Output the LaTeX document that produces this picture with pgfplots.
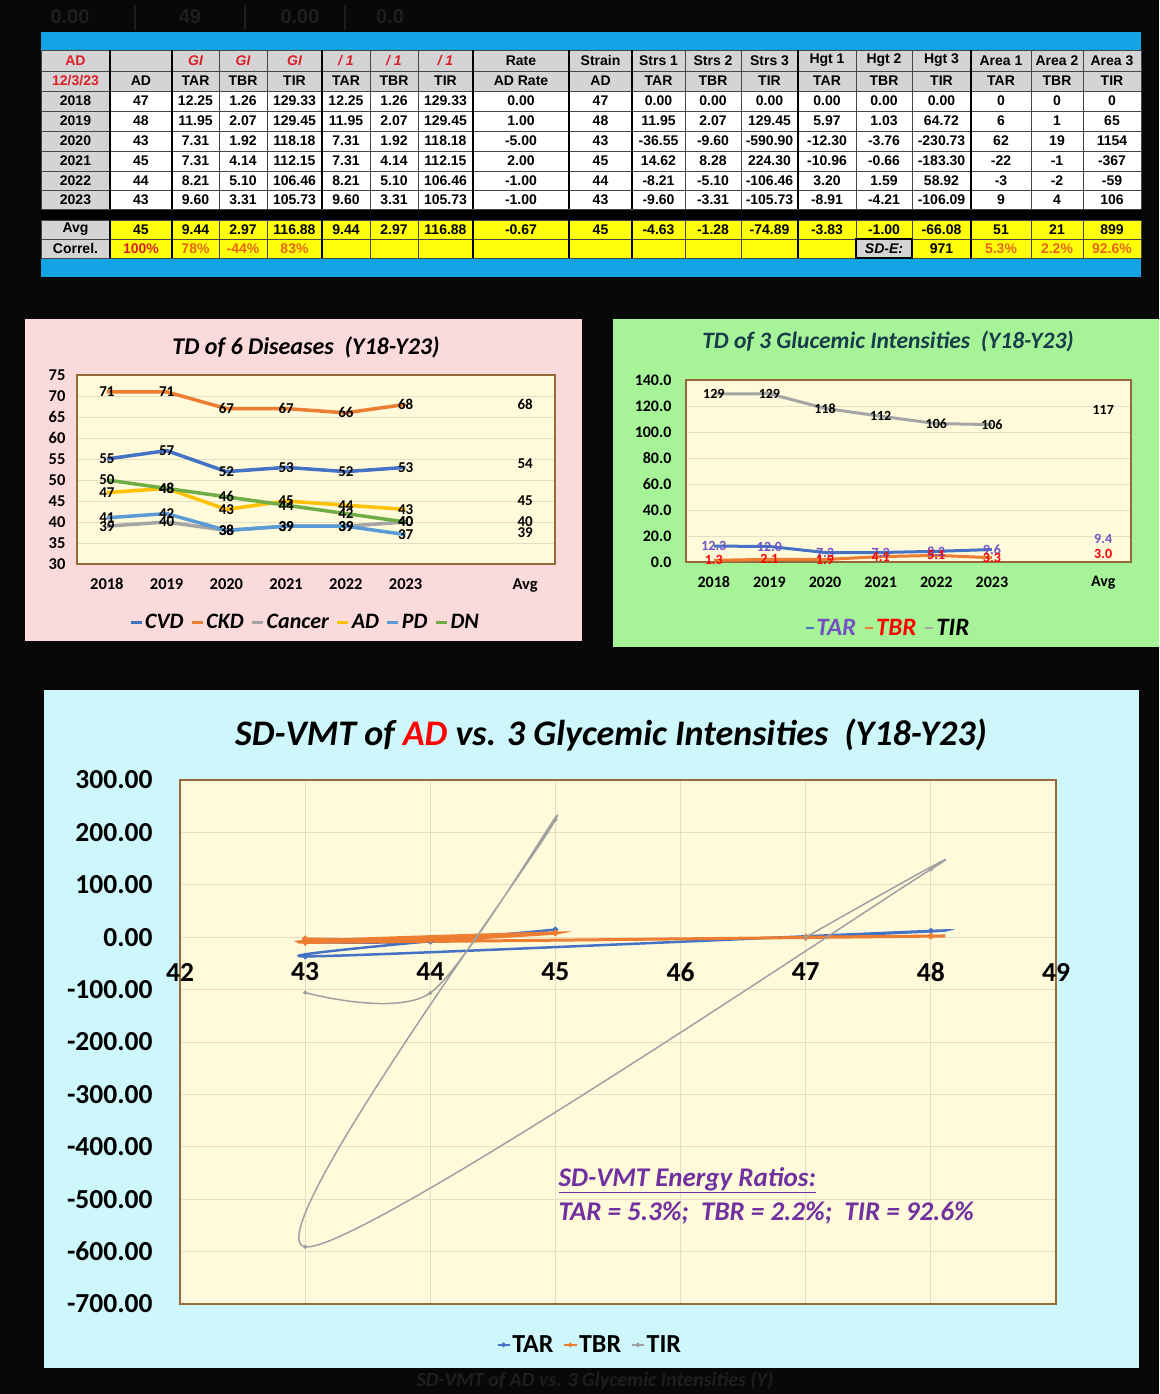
\documentclass[border=0pt]{standalone}
\usepackage{pgfplots}
\pgfplotsset{compat=1.18}
\usepackage{fontspec}
\setmainfont{Carlito}
\newfontfamily\arial{Liberation Sans}
\newcommand\fs[1]{\fontsize{#1}{#1}\selectfont}

\definecolor{bgblack}{RGB}{8,8,8}
\definecolor{ghost}{RGB}{30,30,30}
\definecolor{tblue}{RGB}{18,163,228}
\definecolor{hdr}{RGB}{212,212,212}
\definecolor{yel}{RGB}{255,255,10}
\definecolor{tred}{RGB}{220,30,40}
\definecolor{torange}{RGB}{235,100,20}
\definecolor{tline}{RGB}{70,70,70}
\definecolor{pinkbg}{RGB}{250,218,218}
\definecolor{greenbg}{RGB}{166,243,152}
\definecolor{cyanbg}{RGB}{205,247,250}
\definecolor{plotbg}{RGB}{255,250,218}
\definecolor{pborder}{RGB}{150,105,60}
\definecolor{gridc}{RGB}{228,222,196}
\definecolor{cvd}{HTML}{4472C4}
\definecolor{ckd}{HTML}{ED7D31}
\definecolor{cancer}{HTML}{A5A5A5}
\definecolor{adc}{HTML}{FFC000}
\definecolor{pd}{HTML}{5B9BD5}
\definecolor{dn}{HTML}{70AD47}
\definecolor{tirc}{RGB}{160,160,160}
\definecolor{tarlab}{RGB}{115,80,195}
\definecolor{purp}{HTML}{7030A0}
\definecolor{teal}{RGB}{25,60,75}

% table helpers (positions in px of the reference, 1px = 1pt)
\def\cx{{75.5,141,195.5,243,294.5,346,394,445.5,521,600.5,658.5,713,769.5,827,884,941.5,1001,1057,1112}}
\tikzset{tabtxt/.style={font=\arial\bfseries\fs{14}, inner sep=0pt}}
\newcommand\trow[2]{\foreach \t [count=\i from 0] in {#2}{%
  \pgfmathsetmacro\xx{\cx[\i]}\node[tabtxt] at (\xx pt,-#1pt) {\t};}}

\begin{document}
\begin{tikzpicture}
\fill[bgblack] (0,0) rectangle (1159pt,-1394pt);

% faint text behind the table
\foreach \gx/\gt in {70/0.00,190/49,300/0.00,390/0.0}
  \node[text=ghost, font=\arial\bfseries\fs{20}] at (\gx pt,-17pt) {\gt};
\foreach \gx in {135,245,345} \draw[ghost, line width=1.5pt] (\gx pt,-5pt) -- (\gx pt,-30pt);

% ---------------- table ----------------
\fill[tblue] (41pt,-32pt) rectangle (1141pt,-277pt);
\fill[white] (41pt,-50pt) rectangle (1141pt,-209pt);
\fill[hdr] (41pt,-50pt) rectangle (1141pt,-91pt);
\fill[hdr] (41pt,-50pt) rectangle (110pt,-209pt);
\fill[black] (41pt,-209pt) rectangle (1141pt,-220pt);
\fill[yel] (110pt,-220pt) rectangle (1141pt,-258pt);
\fill[hdr] (41pt,-220pt) rectangle (110pt,-258pt);
\fill[hdr] (856pt,-239pt) rectangle (912pt,-258pt);
\foreach \yy in {50,71,91,111,131,151,171,190,209,220,239,258}
  \draw[tline, line width=0.8pt] (41pt,-\yy pt) -- (1141pt,-\yy pt);
\foreach \bx in {41,110,172,219,267,322,370,418,473,569,632,685,741,798,856,912,971,1031,1083,1141}{
  \draw[tline, line width=0.8pt] (\bx pt,-50pt) -- (\bx pt,-209pt);
  \draw[tline, line width=0.8pt] (\bx pt,-220pt) -- (\bx pt,-258pt);}
\foreach \bx in {110,172,322,473,569,632,798,971}{
  \draw[black, line width=1.8pt] (\bx pt,-50pt) -- (\bx pt,-209pt);
  \draw[black, line width=1.8pt] (\bx pt,-220pt) -- (\bx pt,-258pt);}
\draw[black, line width=1.2pt] (856pt,-239pt) rectangle (912pt,-258pt);

\trow{60.5}{{\color{tred}AD},{},{\color{tred}\itshape GI},{\color{tred}\itshape GI},{\color{tred}\itshape GI},{\color{tred}\itshape / 1},{\color{tred}\itshape / 1},{\color{tred}\itshape / 1},Rate,Strain,Strs 1,Strs 2,Strs 3,Hgt 1,Hgt 2,Hgt 3,Area 1,Area 2,Area 3}
\trow{81}{{\color{tred}12/3/23},AD,TAR,TBR,TIR,TAR,TBR,TIR,AD Rate,AD,TAR,TBR,TIR,TAR,TBR,TIR,TAR,TBR,TIR}
\trow{101}{2018,47,12.25,1.26,129.33,12.25,1.26,129.33,0.00,47,0.00,0.00,0.00,0.00,0.00,0.00,0,0,0}
\trow{121}{2019,48,11.95,2.07,129.45,11.95,2.07,129.45,1.00,48,11.95,2.07,129.45,5.97,1.03,64.72,6,1,65}
\trow{141}{2020,43,7.31,1.92,118.18,7.31,1.92,118.18,-5.00,43,-36.55,-9.60,-590.90,-12.30,-3.76,-230.73,62,19,1154}
\trow{161}{2021,45,7.31,4.14,112.15,7.31,4.14,112.15,2.00,45,14.62,8.28,224.30,-10.96,-0.66,-183.30,-22,-1,-367}
\trow{180.5}{2022,44,8.21,5.10,106.46,8.21,5.10,106.46,-1.00,44,-8.21,-5.10,-106.46,3.20,1.59,58.92,-3,-2,-59}
\trow{199.5}{2023,43,9.60,3.31,105.73,9.60,3.31,105.73,-1.00,43,-9.60,-3.31,-105.73,-8.91,-4.21,-106.09,9,4,106}
\trow{229.5}{Avg,45,9.44,2.97,116.88,9.44,2.97,116.88,-0.67,45,-4.63,-1.28,-74.89,-3.83,-1.00,-66.08,51,21,899}
\trow{248.5}{Correl.,{\color{tred}100\%},{\color{torange}78\%},{\color{torange}-44\%},{\color{torange}83\%},{},{},{},{},{},{},{},{},{},{\itshape SD-E:},971,{\color{torange}5.3\%},{\color{torange}2.2\%},{\color{torange}92.6\%}}

% ---------------- panels ----------------
\fill[pinkbg] (25pt,-319pt) rectangle (582pt,-641pt);
\fill[greenbg] (613pt,-319pt) rectangle (1159pt,-647pt);
\fill[cyanbg] (44pt,-690pt) rectangle (1139pt,-1368pt);
\node[text=ghost, font=\bfseries\itshape\fs{20}] at (595pt,-1381pt) {SD-VMT of AD vs. 3 Glycemic Intensities (Y)};

\node[font=\bfseries\itshape\fs{24}] at (306pt,-347pt) {TD of 6 Diseases\ \ (Y18-Y23)};
\node[text=teal, font=\bfseries\itshape\fs{23.5}] at (888pt,-342pt) {TD of 3 Glucemic Intensities\ \ (Y18-Y23)};
\node[font=\bfseries\itshape\fs{36}] at (611pt,-735pt) {SD-VMT of \textcolor{red}{AD} vs. 3 Glycemic Intensities\ \ (Y18-Y23)};

% ---------------- TD of 6 diseases ----------------
\begin{axis}[at={(77pt,-564pt)}, anchor=south west, scale only axis,
  width=478pt, height=189pt, clip=false,
  xmin=-0.5, xmax=7.5, ymin=30, ymax=75,
  xtick={0,1,2,3,4,5,7}, xticklabels={2018,2019,2020,2021,2022,2023,Avg},
  ytick={30,35,...,75}, major tick length=0pt,
  axis background/.style={fill=plotbg},
  axis line style={draw=pborder, line width=1.8pt},
  ymajorgrids, grid style={draw=gridc, line width=0.8pt},
  ticklabel style={font=\bfseries\fs{16.5}},
  /pgf/number format/assume math mode=true,
  yticklabel style={xshift=-8pt}, xticklabel style={yshift=-11pt},
  every axis plot/.append style={line width=3.5pt},
  nodes near coords,
  every node near coord/.append style={anchor=center, font=\bfseries\fs{15}, text=black, inner sep=0pt},
  legend style={at={(0.477,-0.307)}, anchor=center, draw=none, fill=none,
    font=\bfseries\itshape\fs{22}, legend columns=-1,
    /tikz/every even column/.append style={column sep=5pt}},
  legend image code/.code={\draw[#1, line width=3pt] (0pt,0pt) -- (11pt,0pt);},
]
\addplot[cvd] coordinates {(0,55)(1,57)(2,52)(3,53)(4,52)(5,53)};
\addlegendentry{CVD}
\addplot[ckd] coordinates {(0,71)(1,71)(2,67)(3,67)(4,66)(5,68)};
\addlegendentry{CKD}
\addplot[cancer] coordinates {(0,39)(1,40)(2,38)(3,39)(4,39)(5,40)};
\addlegendentry{Cancer}
\addplot[adc] coordinates {(0,47)(1,48)(2,43)(3,45)(4,44)(5,43)};
\addlegendentry{AD}
\addplot[pd] coordinates {(0,41)(1,42)(2,38)(3,39)(4,39)(5,37)};
\addlegendentry{PD}
\addplot[dn] coordinates {(0,50)(1,48)(2,46)(3,44)(4,42)(5,40)};
\addlegendentry{DN}
\addplot[draw=none, forget plot] coordinates {(7,68)(7,54)(7,45)(7,40)};
\addplot[draw=none, forget plot, every node near coord/.append style={anchor=north}] coordinates {(7,39)};
\end{axis}

% ---------------- TD of 3 glycemic intensities ----------------
\begin{axis}[at={(686pt,-562pt)}, anchor=south west, scale only axis,
  width=445pt, height=182pt, clip=false,
  xmin=-0.5, xmax=7.5, ymin=0, ymax=140,
  xtick={0,1,2,3,4,5,7}, xticklabels={2018,2019,2020,2021,2022,2023,Avg},
  ytick={0,20,...,140}, major tick length=0pt,
  axis background/.style={fill=plotbg},
  axis line style={draw=pborder, line width=1.8pt},
  ymajorgrids, grid style={draw=gridc, line width=0.8pt},
  ticklabel style={font=\bfseries\fs{16}},
  /pgf/number format/assume math mode=true,
  yticklabel style={/pgf/number format/fixed, /pgf/number format/fixed zerofill,
    /pgf/number format/precision=1, xshift=-11pt},
  xticklabel style={yshift=-11pt},
  every axis plot/.append style={line width=3pt},
  every node near coord/.append style={anchor=center, font=\bfseries\fs{14}, inner sep=0pt},
  legend style={at={(0.454,-0.363)}, anchor=center, draw=none, fill=none,
    font=\bfseries\itshape\fs{25}, legend columns=-1,
    /tikz/every even column/.append style={column sep=6pt}},
  legend image code/.code={\draw[#1, line width=1.8pt] (0pt,0pt) -- (8pt,0pt);},
]
\addplot[cvd, nodes near coords={\pgfmathprintnumber[fixed,fixed zerofill,precision=1]{\pgfplotspointmeta}},
  every node near coord/.append style={text=tarlab}]
  coordinates {(0,12.25)(1,11.95)(2,7.31)(3,7.31)(4,8.21)(5,9.60)};
\addlegendentry{\textcolor{tarlab}{TAR}}
\addplot[ckd, nodes near coords={\pgfmathprintnumber[fixed,fixed zerofill,precision=1]{\pgfplotspointmeta}},
  every node near coord/.append style={text=red}]
  coordinates {(0,1.26)(1,2.07)(2,1.92)(3,4.14)(4,5.10)(5,3.31)};
\addlegendentry{\textcolor{red}{TBR}}
\addplot[cancer, nodes near coords={\pgfmathprintnumber[fixed,precision=0]{\pgfplotspointmeta}},
  every node near coord/.append style={text=black}]
  coordinates {(0,129.33)(1,129.45)(2,118.18)(3,112.15)(4,106.46)(5,105.73)};
\addlegendentry{\textcolor{black}{TIR}}
\addplot[draw=none, forget plot, nodes near coords={\pgfmathprintnumber[fixed,precision=0]{\pgfplotspointmeta}},
  every node near coord/.append style={text=black}] coordinates {(7,116.88)};
\addplot[draw=none, forget plot, nodes near coords={\pgfmathprintnumber[fixed,fixed zerofill,precision=1]{\pgfplotspointmeta}},
  every node near coord/.append style={text=tarlab, yshift=11pt}] coordinates {(7,9.44)};
\addplot[draw=none, forget plot, nodes near coords={\pgfmathprintnumber[fixed,fixed zerofill,precision=1]{\pgfplotspointmeta}},
  every node near coord/.append style={text=red, yshift=4pt}] coordinates {(7,2.97)};
\end{axis}

% ---------------- SD-VMT ----------------
\begin{axis}[at={(180pt,-1304pt)}, anchor=south west, scale only axis,
  width=876pt, height=524pt, clip=false,
  xmin=42, xmax=49, ymin=-700, ymax=300,
  xtick={42,...,49}, ytick={-700,-600,...,300}, major tick length=0pt,
  axis background/.style={fill=plotbg},
  axis line style={draw=pborder, line width=2.2pt},
  grid=major, grid style={draw=gridc, line width=0.8pt},
  ticklabel style={font=\bfseries\fs{27.5}},
  /pgf/number format/assume math mode=true,
  yticklabel style={/pgf/number format/fixed, /pgf/number format/fixed zerofill,
    /pgf/number format/precision=2, xshift=-24pt},
  xticklabel style={anchor=center, yshift=332pt},
  legend style={at={(0.468,-0.078)}, anchor=center, draw=none, fill=none,
    font=\bfseries\fs{26}, legend columns=-1,
    /tikz/every even column/.append style={column sep=8pt}},
  legend image code/.code={\draw[#1, line width=1.5pt, mark size=1.5pt, mark repeat=2, mark phase=2]
    plot coordinates {(0pt,0pt)(6pt,0pt)(12pt,0pt)};},
]
\addplot[cvd, line width=2.5pt, smooth, mark=*, mark size=1.5pt]
  coordinates {(47,0)(48,11.95)(43,-36.55)(45,14.62)(44,-8.21)(43,-9.60)};
\addlegendentry{TAR}
\addplot[ckd, line width=3pt, smooth, mark=*, mark size=1.5pt]
  coordinates {(47,0)(48,2.07)(43,-9.60)(45,8.28)(44,-5.10)(43,-3.31)};
\addlegendentry{TBR}
\addplot[tirc, line width=1.5pt, smooth, mark=*, mark size=1.2pt]
  coordinates {(47,0)(48,129.45)(43,-590.90)(45,224.30)(44,-106.46)(43,-105.73)};
\addlegendentry{TIR}
\end{axis}

\node[anchor=west, text=purp, font=\bfseries\itshape\fs{27}] at (555pt,-1180pt) {\underline{SD-VMT Energy Ratios:}};
\node[anchor=west, text=purp, font=\bfseries\itshape\fs{27}] at (555pt,-1213pt) {TAR = 5.3\%;\ \ TBR = 2.2\%;\ \ TIR = 92.6\%};
\end{tikzpicture}
\end{document}
